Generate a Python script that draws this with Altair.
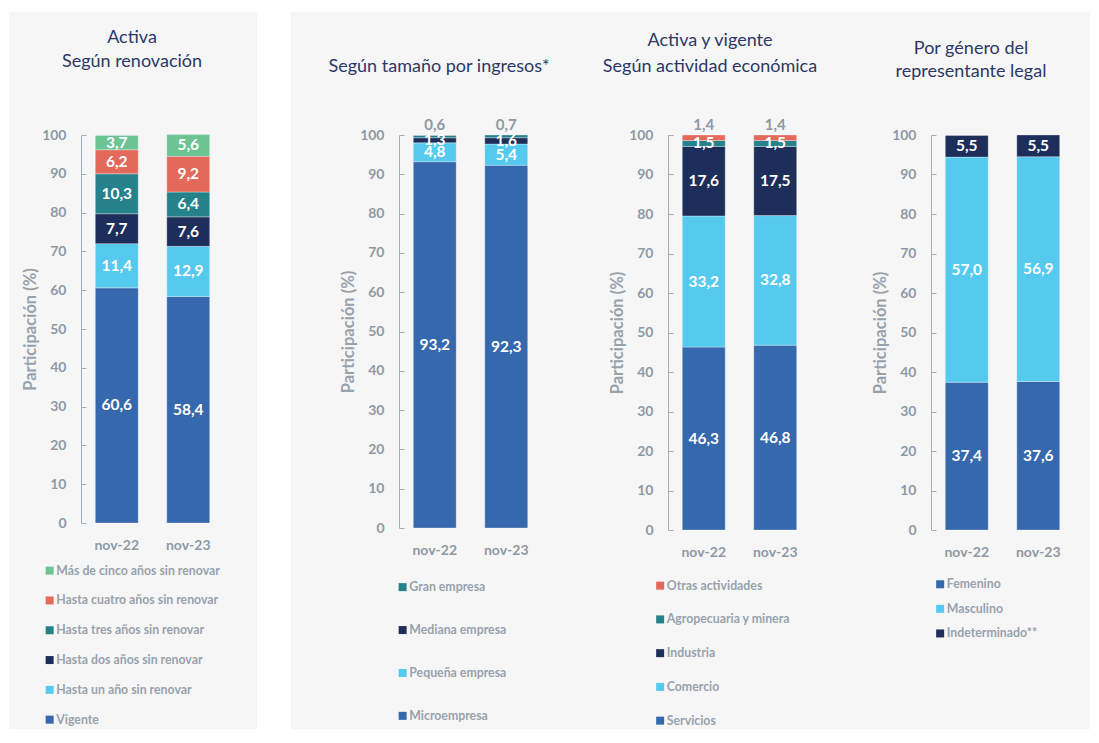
import altair as alt
import pandas as pd

# ---------------- data ----------------
periods = ["nov-22", "nov-23"]

p1_cats = ["Vigente", "Hasta un año sin renovar", "Hasta dos años sin renovar",
           "Hasta tres años sin renovar", "Hasta cuatro años sin renovar",
           "Más de cinco años sin renovar"]
p1_nov22 = [60.6, 11.4, 7.7, 10.3, 6.2, 3.7]
p1_nov23 = [58.4, 12.9, 7.6, 6.4, 9.2, 5.6]

p2_cats = ["Microempresa", "Pequeña empresa", "Mediana empresa", "Gran empresa"]
p2_nov22 = [93.2, 4.8, 1.3, 0.6]
p2_nov23 = [92.3, 5.4, 1.6, 0.7]

p3_cats = ["Servicios", "Comercio", "Industria", "Agropecuaria y minera", "Otras actividades"]
p3_nov22 = [46.3, 33.2, 17.6, 1.5, 1.4]
p3_nov23 = [46.8, 32.8, 17.5, 1.5, 1.4]

p4_cats = ["Femenino", "Masculino", "Indeterminado**"]
p4_nov22 = [37.4, 57.0, 5.5]
p4_nov23 = [37.6, 56.9, 5.5]

# ---------------- style ----------------
BLUE, CYAN, NAVY, TEAL, CORAL, GREEN = "#3568ac", "#56caee", "#1e2e5a", "#25828b", "#e3695b", "#6dc493"
BG = "#f6f6f6"
GREY = "#8e99a4"
LGREY = "#98a2ad"
TCOL = "#2b3866"
FONT = "Lato"

p1_colors = [BLUE, CYAN, NAVY, TEAL, CORAL, GREEN]
p2_colors = [BLUE, CYAN, NAVY, TEAL]
p3_colors = [BLUE, CYAN, NAVY, TEAL, CORAL]
p4_colors = [BLUE, CYAN, NAVY]

TOP = 134      # page y of the 100 % line
BOTTOM = 728   # page y of the bottom of the grey boxes


def make_df(cats, v22, v23, outside=None):
    rows = []
    for per, vals in zip(periods, [v22, v23]):
        for i, (c, v) in enumerate(zip(cats, vals)):
            rows.append({"periodo": per, "cat": c, "val": v, "ord": i,
                         "lbl": f"{v:.1f}".replace(".", ","),
                         "fuera": bool(c == outside)})
    return pd.DataFrame(rows)


one = pd.DataFrame({"k": [0]})


def panel(df, cats, colors, reverse_legend, title_lines, g):
    legend_order = list(reversed(cats)) if reverse_legend else list(cats)
    cmap = dict(zip(cats, colors))
    base = alt.Chart(df).transform_stack(
        stack="val", groupby=["periodo"],
        sort=[alt.SortField("ord", order="ascending")], as_=["y0", "y1"]
    ).transform_calculate(mid="(datum.y0 + datum.y1) / 2")

    xax = alt.Axis(title=None, labelAngle=0, domain=False, ticks=False, labelPadding=15,
                   labelFontSize=14, labelFontWeight="bold", labelColor=GREY, labelFont=FONT,
                   zindex=1)
    xenc = alt.X("periodo:N", sort=periods,
                 scale=alt.Scale(paddingInner=0.4, paddingOuter=0.2, range=[0, 143]), axis=xax)
    yax = alt.Axis(title="Participación (%)", values=list(range(0, 101, 10)), grid=False,
                   domainColor="#a3adb7", tickColor="#a3adb7",
                   tickSize=alt.ExprRef(expr="-5"), labelPadding=20,
                   labelFontSize=14, labelFontWeight="bold", labelColor=GREY, labelFont=FONT,
                   titleFont=FONT, titleFontSize=16.5, titleFontWeight="bold", titleColor=LGREY,
                   titlePadding=3, zindex=1)
    yscale = alt.Scale(domain=[0, 100], nice=False, zero=True)

    bg = alt.Chart(one).mark_rect(color=BG).encode(
        x=alt.value(g["bx0"]), x2=alt.value(g["bx1"]),
        y=alt.value(11 - TOP), y2=alt.value(BOTTOM - TOP))
    ttl = alt.Chart(one).mark_text(font=FONT, fontSize=18, color=TCOL, align="center",
                                   baseline="alphabetic", lineHeight=g.get("lh", 24)).encode(
        x=alt.value(g["tx"]), y=alt.value(g["ty"]), text=alt.value(title_lines))

    bars = base.mark_bar(stroke="white", strokeWidth=0.6, strokeOpacity=0.5).encode(
        x=xenc,
        y=alt.Y("y0:Q", scale=yscale, axis=yax),
        y2="y1:Q",
        color=alt.Color("cat:N",
                        scale=alt.Scale(domain=legend_order, range=[cmap[c] for c in legend_order]),
                        legend=alt.Legend(orient="none", legendX=g["lx"], legendY=g["ly"],
                                          direction="vertical", title=None, padding=0,
                                          symbolType="square", symbolSize=64,
                                          symbolStrokeWidth=0, labelFont=FONT,
                                          labelFontSize=12.3, labelFontWeight="bold",
                                          labelColor=LGREY, labelOffset=0.5,
                                          rowPadding=g["rp"], labelLimit=300)),
    )
    txt_in = base.transform_filter("!datum.fuera").mark_text(
        color="white", font=FONT, fontWeight="bold", fontSize=15.5, baseline="middle").encode(
        x=xenc, y=alt.Y("mid:Q", scale=yscale, axis=yax), text="lbl:N")
    txt_out = base.transform_filter("datum.fuera").mark_text(
        color=GREY, font=FONT, fontWeight="bold", fontSize=15, baseline="alphabetic", dy=-5).encode(
        x=xenc, y=alt.Y("y1:Q", scale=yscale, axis=yax), text="lbl:N")
    return alt.layer(bg, ttl, bars, txt_in, txt_out).properties(width=g["w"], height=g["h"])


# plot-area left edges (page px): 80, 398, 667, 930
g1 = dict(w=398 - 80, h=388, bx0=8 - 80, bx1=256 - 80,
          tx=131 - 80, ty=42 - TOP, lx=-37.5, ly=570 - TOP - 6.5, rp=16.8)
g2 = dict(w=667 - 398, h=393, bx0=290 - 398, bx1=1089 - 398,
          tx=438 - 398, ty=71 - TOP, lx=-2.5, ly=585.7 - TOP - 5.7, rp=29.9)
g3 = dict(w=930 - 667, h=395, bx0=0, bx1=0,
          tx=709 - 667, ty=45 - TOP, lh=26, lx=-14, ly=585 - TOP - 6.5, rp=20.75)
g4 = dict(w=143, h=395, bx0=0, bx1=0,
          tx=970 - 930, ty=53 - TOP, lh=23, lx=3, ly=583.3 - TOP - 6.2, rp=11.6)

c1 = panel(make_df(p1_cats, p1_nov22, p1_nov23), p1_cats, p1_colors, True,
           ["Activa", "Según renovación"], g1)
c2 = panel(make_df(p2_cats, p2_nov22, p2_nov23, outside="Gran empresa"), p2_cats, p2_colors, True,
           ["Según tamaño por ingresos*"], g2)
c3 = panel(make_df(p3_cats, p3_nov22, p3_nov23, outside="Otras actividades"), p3_cats, p3_colors, True,
           ["Activa y vigente", "Según actividad económica"], g3)
c4 = panel(make_df(p4_cats, p4_nov22, p4_nov23), p4_cats, p4_colors, False,
           ["Por género del", "representante legal"], g4)

chart = alt.hconcat(c1, c2, c3, c4, spacing=0, bounds="flush").resolve_scale(
    color="independent", x="independent", y="independent"
).properties(
    padding={"left": 0, "top": 3, "right": 0, "bottom": 0}
).configure(background="white", font=FONT).configure_view(
    stroke="transparent"
)

chart.save("out.html", embed_options={"renderer": "svg", "actions": False})
